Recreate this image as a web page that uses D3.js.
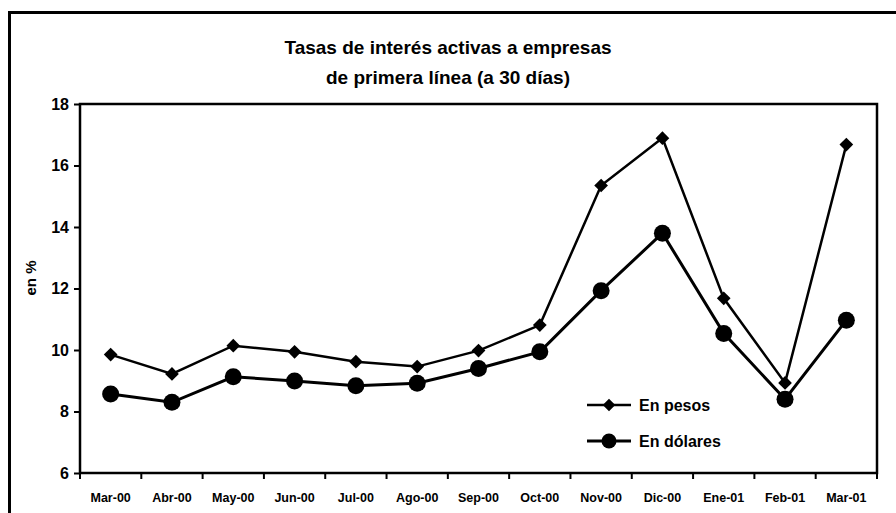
<!DOCTYPE html>
<html>
<head>
<meta charset="utf-8">
<script src="https://cdn.jsdelivr.net/npm/d3@7"></script>
<style>
  body { margin: 0; background: #fff; }
  svg { display: block; }
  text { font-family: "Liberation Sans", Arial, sans-serif; font-weight: bold; fill: #000; }
</style>
</head>
<body>
<div id="chart"></div>
<script>
// Data
const months = ["Mar-00", "Abr-00", "May-00", "Jun-00", "Jul-00", "Ago-00", "Sep-00",
                "Oct-00", "Nov-00", "Dic-00", "Ene-01", "Feb-01", "Mar-01"];
const pesos   = [9.85, 9.22, 10.14, 9.94, 9.62, 9.46, 9.98, 10.81, 15.35, 16.89, 11.68, 8.93, 16.68];
const dolares = [8.57, 8.3, 9.13, 8.99, 8.84, 8.92, 9.4, 9.94, 11.93, 13.8, 10.54, 8.4, 10.97];
const yTicks  = [6, 8, 10, 12, 14, 16, 18];

const W = 896, H = 513;
const margin = { top: 104, right: 19, bottom: 40, left: 80 };
const width = W - margin.left - margin.right;
const height = H - margin.top - margin.bottom;

const root = d3.select("#chart").append("svg")
  .attr("width", W).attr("height", H);

// outer frame (runs off the right and bottom edges)
root.append("rect")
  .attr("x", 9.5).attr("y", 12.5)
  .attr("width", W + 20).attr("height", H + 20)
  .attr("fill", "none").attr("stroke", "#000").attr("stroke-width", 3);

// title
root.append("text")
  .attr("x", 448).attr("y", 54)
  .attr("text-anchor", "middle").attr("font-size", 19)
  .text("Tasas de interés activas a empresas");
root.append("text")
  .attr("x", 448).attr("y", 84)
  .attr("text-anchor", "middle").attr("font-size", 19)
  .text("de primera línea (a 30 días)");

const svg = root.append("g")
  .attr("transform", `translate(${margin.left},${margin.top})`);

// Scales
const x = d3.scaleBand().domain(months).range([0, width]);
const y = d3.scaleLinear().domain([6, 18]).range([height, 0]);
const cx = d => x(d) + x.bandwidth() / 2;

// plot box
svg.append("rect")
  .attr("width", width).attr("height", height)
  .attr("fill", "none").attr("stroke", "#000").attr("stroke-width", 2.5);

// y axis
const yAxis = svg.append("g")
  .call(d3.axisLeft(y).tickValues(yTicks).tickSize(6).tickPadding(5));
yAxis.select(".domain").remove();
yAxis.selectAll("line").attr("stroke", "#000").attr("stroke-width", 2);
yAxis.selectAll("text").attr("font-size", 16).attr("font-family", null);

// x axis: ticks between categories, labels centered
const xg = svg.append("g").attr("transform", `translate(0,${height})`);
xg.selectAll("line")
  .data(d3.range(months.length + 1))
  .enter().append("line")
    .attr("x1", i => i * x.step()).attr("x2", i => i * x.step())
    .attr("y1", 0).attr("y2", 6)
    .attr("stroke", "#000").attr("stroke-width", 2);
xg.selectAll("text")
  .data(months)
  .enter().append("text")
    .attr("x", d => cx(d)).attr("y", 29)
    .attr("text-anchor", "middle").attr("font-size", 12.5)
    .text(d => d);

// y label
root.append("text")
  .attr("transform", "translate(36,278) rotate(-90)")
  .attr("text-anchor", "middle").attr("font-size", 15)
  .text("en %");

// lines
const line = d3.line().x((d, i) => cx(months[i])).y(d => y(d));
const diamond = d3.symbol().type(d3.symbolDiamond2).size(120);

svg.append("path").datum(pesos)
  .attr("fill", "none").attr("stroke", "#000").attr("stroke-width", 2.5)
  .attr("d", line);
svg.append("path").datum(dolares)
  .attr("fill", "none").attr("stroke", "#000").attr("stroke-width", 3)
  .attr("d", line);

svg.selectAll("path.dia")
  .data(pesos)
  .enter().append("path")
    .attr("class", "dia")
    .attr("transform", (d, i) => `translate(${cx(months[i])},${y(d)})`)
    .attr("d", diamond)
    .attr("fill", "#000");

svg.selectAll("circle.dot")
  .data(dolares)
  .enter().append("circle")
    .attr("class", "dot")
    .attr("cx", (d, i) => cx(months[i])).attr("cy", d => y(d))
    .attr("r", 8.5).attr("fill", "#000");

// Legend
root.append("g")
  .attr("transform", "translate(587,405)")
  .call(g => {
    g.append("line").attr("x1", 0).attr("x2", 44).attr("y1", 0).attr("y2", 0)
      .attr("stroke", "#000").attr("stroke-width", 2.5);
    g.append("path").attr("transform", "translate(22,0)")
      .attr("d", d3.symbol().type(d3.symbolDiamond2).size(100)).attr("fill", "#000");
    g.append("text").attr("x", 52).attr("y", 6).attr("font-size", 16).text("En pesos");
    g.append("line").attr("x1", 0).attr("x2", 44).attr("y1", 36).attr("y2", 36)
      .attr("stroke", "#000").attr("stroke-width", 3);
    g.append("circle").attr("cx", 22).attr("cy", 36).attr("r", 7.5).attr("fill", "#000");
    g.append("text").attr("x", 52).attr("y", 42).attr("font-size", 16).text("En dólares");
  });
</script>
</body>
</html>
